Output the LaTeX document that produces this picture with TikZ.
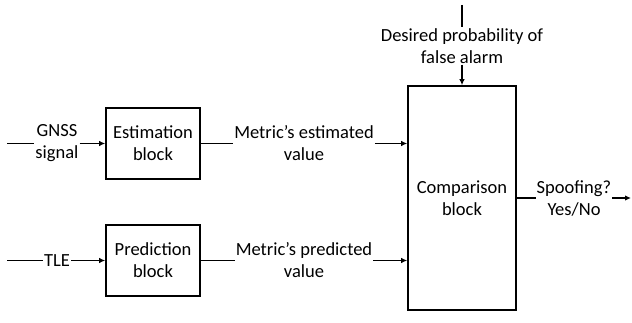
\documentclass[tikz,border=0pt]{standalone}
\usepackage{fontspec}
\setmainfont{Carlito}
\usetikzlibrary{arrows.meta}
\begin{document}
\begin{tikzpicture}[x=1pt,y=-1pt,
  blk/.style={draw,line width=1.6pt,minimum width=94pt,minimum height=71pt,align=center,inner sep=0pt},
  lbl/.style={fill=white,align=center,inner sep=1pt},
  conn/.style={line width=1.3pt},
  arr/.style={conn,-{Latex[length=6pt,width=5.5pt]}},
  font=\fontsize{18.5}{22}\selectfont]
\useasboundingbox (0,0) rectangle (632,323);
% blocks
\node[blk] (est) at (153,143.5) {Estimation\\block};
\node[blk] (pred) at (153,260.5) {Prediction\\block};
\node[blk,minimum width=108pt,minimum height=224pt] (comp) at (462,198) {Comparison\\block};
% labels
\coordinate (gin) at (7,143.5);
\coordinate (tin) at (7,260.5);
\coordinate (pin) at (462,5);
\coordinate (sout) at (631,198);
\node[lbl] (gnss) at (57,143.5) {GNSS\\signal};
\node[lbl] (tle) at (57,260.5) {TLE};
\node[lbl] (mest) at (304,143.5) {Metric’s estimated\\value};
\node[lbl] (mpred) at (304,260.5) {Metric’s predicted\\value};
\node[lbl] (pfa) at (462,46) {Desired probability of\\false alarm};
\node[lbl] (spoof) at (574,198) {Spoofing?\\Yes/No};
% connectors
\draw[conn] (gin) -- (gnss.west);
\draw[arr] (gnss.east) -- (est.west);
\draw[conn] (tin) -- (tle.west);
\draw[arr] (tle.east) -- (pred.west);
\draw[conn] (est.east) -- (mest.west);
\draw[arr] (mest.east) -- (mest.east -| comp.west);
\draw[conn] (pred.east) -- (mpred.west);
\draw[arr] (mpred.east) -- (mpred.east -| comp.west);
\draw[conn] (pin) -- (pfa.north);
\draw[arr] (pfa.south) -- (comp.north);
\draw[conn] (comp.east) -- (spoof.west);
\draw[arr] (spoof.east) -- (sout);
\end{tikzpicture}
\end{document}
